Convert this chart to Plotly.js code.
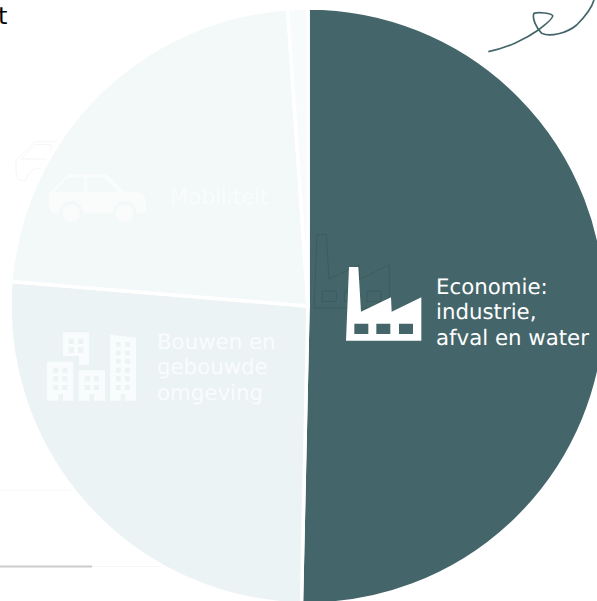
<!DOCTYPE html>
<html>
<head>
<meta charset="utf-8">
<script src="https://cdn.plot.ly/plotly-3.0.1.min.js"></script>
<style>html,body{margin:0;padding:0;background:#fff;overflow:hidden;width:597px;height:601px}#c{width:616px;height:612px}svg text{text-rendering:geometricPrecision}</style>
</head>
<body>
<div id="c"></div>
<script>
const sectors = ['Economie: industrie, afval en water','Bouwen en gebouwde omgeving','Mobiliteit','Overig'];
const shares = [50.35, 25.96, 22.6, 1.09];
const sliceColors = ['#44666a','#ebf3f5','#f3f8f8','#f7fbfb'];

const W = 616, H = 612;
const cx = 308, cy = 306, R = 298;
const ICON = '#fafcfc';

const P = (path, ox, oy, s) => path.replace(/(-?[\d.]+),(-?[\d.]+)/g, (m, x, y) =>
  (((ox + x * s)) / W).toFixed(5) + ',' + (1 - (oy + y * s) / H).toFixed(5));
const rect = (a, b, c, d) => `M${a},${b} L${c},${b} L${c},${d} L${a},${d} Z `;
const grid = (xs, ys) => xs.map(x => ys.map(y => rect(x[0], y[0], x[1], y[1])).join('')).join('');

const factoryOutline = 'M147,141 L175,141 L183,275 L273,232 L275,275 L364,232 L364,362 L138,362 Z ';
const factoryWindows = rect(163,311,205,342) + rect(229,311,271,342) + rect(297,311,339,342);

const carBody = 'M147,580 L197,530 Q203,522 212,522 L312,522 Q320,522 327,530 L373,575 L405,575 Q438,578 438,608 L438,630 Q438,638 428,638 L410,640 C405,590 345,590 338,640 L250,640 C245,590 185,590 177,640 L160,640 Q147,630 147,615 Z ';
const carWindows = 'M164,575 L203,532 L247,532 Q252,532 252,537 L252,570 Q252,575 247,575 Z M262,537 Q262,532 267,532 L310,532 L353,575 L267,575 Q262,575 262,570 Z ';

const blocks = 'M189,97 L267,97 L267,195 L237,195 L237,168 L189,168 Z '
  + 'M141,185 L220,185 L220,302 L189,302 L189,283 L175,283 L175,302 L141,302 Z '
  + 'M236,211 L315,211 L315,302 L282,302 L282,283 L268,283 L268,302 L236,302 Z '
  + 'M330,104 L408,113 L408,302 L376,302 L376,283 L362,283 L362,302 L330,302 Z '
  + grid([[206,222],[234,250]], [[116,132],[142,158]])
  + grid([[160,175],[187,202]], [[203,218],[229,244],[255,270]])
  + grid([[254,270],[282,297]], [[229,244],[255,270]])
  + grid([[348,362],[375,390]], [[126,140],[152,166],[177,191],[203,218],[229,244],[255,270]]);

const swirl = 'M55,155 C110,145 170,115 205,90 C225,75 250,55 248,47 C245,40 205,35 192,40 C185,55 200,85 215,100 C240,112 290,100 320,75 C345,50 365,25 372,0';

const pathShape = (path, fill, line, lw, layer) => ({
  type: 'path', xref: 'paper', yref: 'paper', path, fillcolor: fill, layer,
  line: {color: line, width: lw}
});
const hline = (y, x0, x1, color, width) => ({
  type: 'line', xref: 'paper', yref: 'paper', x0: x0 / W, x1: x1 / W, y0: 1 - y / H, y1: 1 - y / H,
  layer: 'below', line: {color, width}
});
const wheel = (x, y, r, fill, line) => ({
  type: 'circle', xref: 'paper', yref: 'paper', x0: (x - r) / W, x1: (x + r) / W, y0: 1 - (y + r) / H, y1: 1 - (y - r) / H,
  layer: 'above', fillcolor: fill, line: {color: line, width: 0}
});

const shapes = [
  hline(490, 0, 75, '#f8f8f8', 1),
  hline(566.5, 0, 92, '#cccccc', 2),
  hline(566.5, 92, 160, '#f6f6f6', 1),
  pathShape(P(carBody + carWindows, -33, -32.7, 1/3), 'rgba(255,255,255,0)', '#f4f5f5', 1, 'below'),
  pathShape(P(swirl, 470, 0, 1/3), 'rgba(0,0,0,0)', '#44666a', 1.7, 'above'),
  pathShape(P(factoryOutline + factoryWindows, 268, 187.5, 1/3), 'rgba(0,0,0,0)', 'rgba(50,78,82,0.4)', 1, 'above'),
  pathShape(P(factoryOutline + factoryWindows, 300, 220, 1/3), '#ffffff', 'rgba(0,0,0,0)', 0, 'above'),
  pathShape(P(carBody + carWindows, 0, 0, 1/3), ICON, 'rgba(0,0,0,0)', 0, 'above'),
  wheel(71.2, 213.3, 8.8, ICON, ICON),
  wheel(124.5, 213.3, 8.8, ICON, ICON),
  pathShape(P(blocks, 0, 300, 1/3), '#f9fcfc', 'rgba(0,0,0,0)', 0, 'above')
];

const FONT = 'DejaVu Sans';
const SIZE = 21.3;
const label = (text, x, y, color, size) => ({
  text, xref: 'paper', yref: 'paper', x: x / W, y: 1 - y / H, xanchor: 'left', yanchor: 'middle',
  showarrow: false, borderpad: 0, font: {family: FONT, size: size || SIZE, color}
});
const annotations = [
  label('Economie:', 435.5, 287, '#ffffff'),
  label('industrie,', 435.5, 312.5, '#ffffff'),
  label('afval en water', 434.5, 338, '#ffffff'),
  label('Mobiliteit', 168.5, 198, ICON),
  label('Bouwen en', 155.5, 342, ICON),
  label('gebouwde', 155.5, 367.5, ICON),
  label('omgeving', 155.5, 393, ICON),
  label('t', -3, 16.4, '#000000', 24)
];

Plotly.newPlot('c', [{
  type: 'pie',
  labels: sectors,
  values: shares,
  sort: false,
  direction: 'clockwise',
  rotation: 0,
  textinfo: 'none',
  hoverinfo: 'label+percent',
  domain: {x: [(cx - R) / W, (cx + R) / W], y: [1 - (cy + R) / H, 1 - (cy - R) / H]},
  marker: {colors: sliceColors, line: {color: '#ffffff', width: 3.5}}
}], {
  width: W, height: H,
  margin: {l: 0, r: 0, t: 0, b: 0, pad: 0},
  paper_bgcolor: 'rgba(0,0,0,0)',
  plot_bgcolor: 'rgba(0,0,0,0)',
  showlegend: false,
  shapes, annotations,
  font: {family: FONT}
}, {displayModeBar: false, staticPlot: true});
</script>
</body>
</html>
